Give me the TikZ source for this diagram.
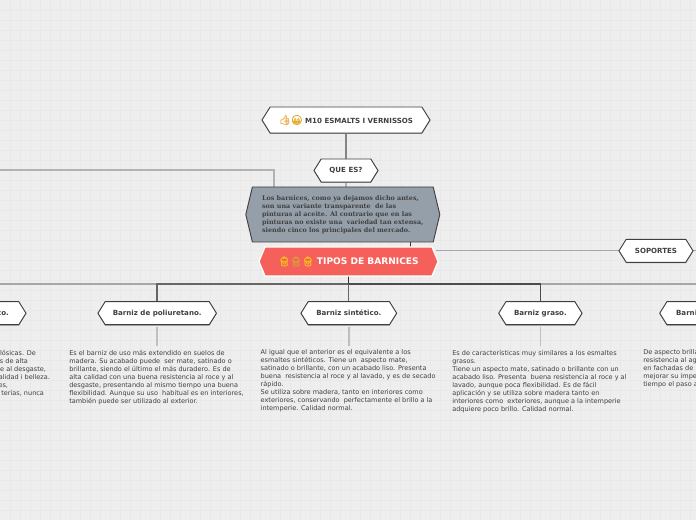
\documentclass[tikz,border=0pt]{standalone}
\usepackage{fontspec}
\setmainfont{DejaVu Sans}
\newfontfamily\serifbf{DejaVu Serif}[BoldFont={DejaVu Serif Bold}]
\newfontfamily\emojifont{Noto Emoji}[FakeBold=3.5]
\usetikzlibrary{shapes.symbols,shadows,backgrounds}
\def\px{0.75pt}
\definecolor{pagebg}{HTML}{EEEEEE}
\definecolor{gridc}{HTML}{E8E8E8}
\definecolor{inkc}{HTML}{404040}
\definecolor{boxfill}{HTML}{959FA9}
\definecolor{redfill}{HTML}{F5615A}
\definecolor{thumbc}{HTML}{F2B45E}
\definecolor{grinc}{HTML}{E5A92A}
\definecolor{hatc}{HTML}{F5C518}
\definecolor{hatd}{HTML}{D9A13A}
\tikzset{
  x=\px,y=-\px,
  hexbase/.style={shape=signal,signal to=east and west,inner sep=0pt,outer sep=0pt,anchor=center},
  hexbox/.style={hexbase,draw=inkc,fill=white,line width=0.7pt,
    drop shadow={shadow xshift=0pt,shadow yshift=-0.6pt,fill=black!45,opacity=1},
    font=\fontsize{5.3}{6}\selectfont\bfseries,text=inkc,
    minimum height=23*\px,signal pointer angle=116},
  rootbox/.style={hexbox,font=\fontsize{5.3}{6}\selectfont\bfseries,minimum height=26*\px},
  darkbox/.style={hexbase,draw=black!75,fill=boxfill,line width=0.7pt,signal pointer angle=153,
    minimum width=194*\px,minimum height=55*\px,
    font=\fontsize{4.8}{6}\selectfont\serifbf\bfseries,text=black!75,align=left},
  redbox/.style={hexbase,draw=white,fill=redfill,line width=0.9pt,signal pointer angle=135,
    minimum width=179*\px,minimum height=29*\px,
    font=\fontsize{6.8}{6}\selectfont\bfseries,text=white},
  bodytext/.style={inner sep=0pt,outer sep=0pt,align=left,anchor=north west,
    font=\fontsize{4.9}{6}\selectfont,text=inkc},
  cuttext/.style={inner sep=0pt,outer sep=0pt,anchor=base east,
    font=\fontsize{4.9}{6}\selectfont,text=inkc},
  busline/.style={draw=black!35,line width=1.5pt},
  busdark/.style={draw=black!60,line width=1.3pt},
  busdeep/.style={draw=black!70,line width=1.3pt},
  thinlink/.style={draw=black!80,line width=0.75pt},
  softlink/.style={draw=black!30,line width=1.5pt},
  leader/.style={draw=black!25,line width=1.1pt},
  midlink/.style={draw=black!48,line width=1.2pt},
  sidelink/.style={draw=black!35,line width=0.75pt},
}
\newcommand{\emojirun}[1]{{\fontsize{7}{6}\selectfont\emojifont #1}}
\begin{document}
\begin{tikzpicture}
\useasboundingbox (0,0) rectangle (696,520);
\clip (0,0) rectangle (696,520);
\fill[pagebg] (0,0) rectangle (696,520);
\foreach \g in {10,20,...,690} \draw[gridc,line width=0.5pt] (\g+0.5,0) -- (\g+0.5,520);
\foreach \g in {10,20,...,510} \draw[gridc,line width=0.5pt] (0,\g+0.5) -- (696,\g+0.5);

% free ends of connectors
\coordinate (lft) at (0,170);
\coordinate (boxin) at (273.5,187);
\coordinate (busL) at (0,284);
\coordinate (busR) at (696,284);
\coordinate (boxout) at (410,242);
\coordinate (sideR) at (696,250.7);

% connectors first, so the nodes sit above them
\node[hexbase,minimum width=168*\px,minimum height=26*\px,signal pointer angle=116,draw=none,fill=none] (m10ph) at (346,120) {};
\node[hexbase,minimum width=64*\px,minimum height=23*\px,signal pointer angle=116,draw=none,fill=none] (queph) at (346,170.5) {};
\draw[midlink] (m10ph) -- (queph);
\draw[softlink] (queph.south) -- (346,187);
\draw[softlink] (lft) -| (boxin);
\draw[busline] (busL) -- (busR);
\coordinate (junction) at (348.6,284);
\coordinate (polin) at (157,302);
\coordinate (sinin) at (348.6,302);
\coordinate (grain) at (540.5,302);
\draw[busdark] (junction) -| (polin);
\draw[busdark] (junction) -- (sinin);
\draw[busdeep] (junction) -| (grain);
\draw[thinlink] (348.6,276) -- (junction);
\draw[thinlink] (boxout) -- (410,247);
\draw[sidelink] (436,250.7) -- (sideR);

% nodes
\node[rootbox,minimum width=168*\px] (m10) at (346,120)
  {\emojirun{\textcolor{thumbc}{👍}\textcolor{grinc}{😁}} M10 ESMALTS I VERNISSOS};
\node[hexbox,minimum width=64*\px] (que) at (346,170.5) {QUE ES?};
\node[darkbox] (desc) at (342.8,214.5) {Los barnices, como ya dejamos dicho antes,\\
son una variante transparente~ de las\\
pinturas al aceite. Al contrario que en las\\
pinturas no existe una~ variedad tan extensa,\hspace*{3.2pt}\\
siendo cinco los principales del mercado.};
\node[redbox] (tipos) at (348.5,261.5)
  {\emojirun{\textcolor{hatc}{👷}\textcolor{hatd}{👷}\textcolor{hatc}{👷}} TIPOS DE BARNICES};
\node[hexbox,minimum width=74*\px] (sop) at (656,250.8) {SOPORTES};

\node[hexbox,minimum width=118.5*\px] (pol) at (157.2,313.2) {Barniz de poliuretano.};
\node[hexbox,minimum width=95.7*\px] (sin) at (348.8,313.2) {Barniz sintético.};
\node[hexbox,minimum width=83.3*\px] (gra) at (540.4,313.2) {Barniz graso.};
\node[hexbox,minimum width=80*\px] (lefthex) at (-14,313.2) {};
\node[hexbase,font=\fontsize{5.3}{6}\selectfont\bfseries,text=inkc,anchor=base east] (lefttxt) at (9,315.5) {co.};
\node[hexbox,minimum width=80*\px] (righthex) at (699.7,313.2) {};
\node[hexbase,font=\fontsize{5.3}{6}\selectfont\bfseries,text=inkc,anchor=base west] (righttxt) at (676,315.5) {Barni};

% short links under the nodes
\draw[leader] (pol.south) ++(0,2) -- ++(0,19);
\draw[leader] (sin.south) ++(0,2) -- ++(0,19);
\draw[leader] (gra.south) ++(0,2) -- ++(0,19);

% body texts
\node[bodytext] (tpol) at (69.3,350) {Es el barniz de uso más extendido en suelos de\\
madera. Su acabado puede~ ser mate, satinado o\\
brillante, siendo el último el más duradero. Es de\\
alta calidad con una buena resistencia al roce y al\\
desgaste, presentando al mismo tiempo una buena\\
flexibilidad. Aunque su uso~ habitual es en interiores,\\
también puede ser utilizado al exterior.};
\node[bodytext] (tsin) at (260.7,350) {Al igual que el anterior es el equivalente a los\\
esmaltes sintéticos. Tiene un~ aspecto mate,\\
satinado o brillante, con un acabado liso. Presenta\\
buena~ resistencia al roce y al lavado, y es de secado\\
rápido.\\
Se utiliza sobre madera, tanto en interiores como\\
exteriores, conservando~ perfectamente el brillo a la\\
intemperie. Calidad normal.};
\node[bodytext] (tgra) at (452.3,350) {Es de características muy similares a los esmaltes\\
grasos.\\
Tiene un aspecto mate, satinado o brillante con un\\
acabado liso. Presenta~ buena resistencia al roce y al\\
lavado, aunque poca flexibilidad. Es de fácil\\
aplicación y se utiliza sobre madera tanto en\\
interiores como~ exteriores, aunque a la intemperie\\
adquiere poco brillo. Calidad normal.};
\node[bodytext] (trig) at (643.3,350) {De aspecto brilla\\
resistencia al ag\\
en fachadas de\\
mejorar su impe\\
tiempo el paso a};
\node[cuttext] (c1) at (36,355) {lósicas. De};
\node[cuttext] (c2) at (28,363) {s de alta};
\node[cuttext] (c3) at (46,371) {ce al desgaste,};
\node[cuttext] (c4) at (50,379) {alidad i belleza.};
\node[cuttext] (c5) at (8,387) {ores,};
\node[cuttext] (c6) at (44,395) {terías, nunca};
\end{tikzpicture}
\end{document}
